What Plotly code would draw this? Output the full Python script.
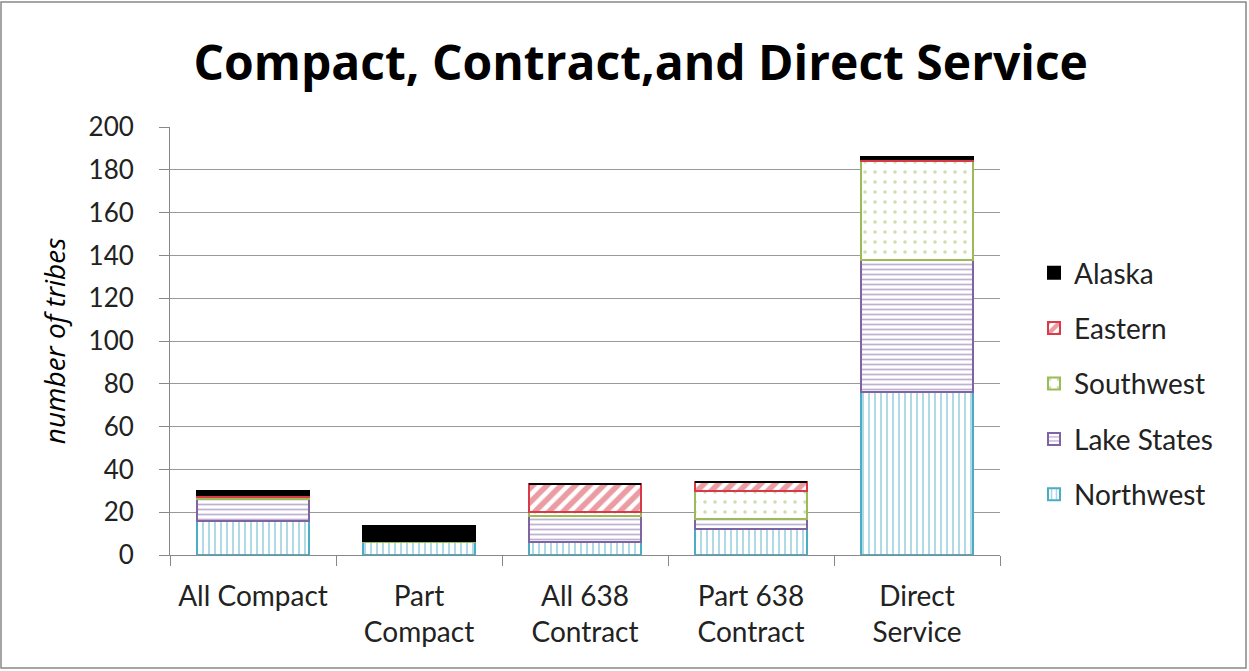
import plotly.graph_objects as go

categories = ["All Compact", "Part<br>Compact", "All 638<br>Contract", "Part 638<br>Contract", "Direct<br>Service"]
northwest = [16, 6, 6, 12, 76]
lake_states = [10, 0, 12, 5, 62]
southwest = [1, 0.5, 2, 13, 46]
eastern = [1, 0, 13, 4, 1]
alaska = [2, 7, 0, 0, 1]

series = [
    ("Northwest", northwest, "#4BACC6", "|", 6, 0.3),
    ("Lake States", lake_states, "#8064A2", "-", 5, 0.35),
    ("Southwest", southwest, "#9BBB59", ".", 10, 0.1),
    ("Eastern", eastern, "#D83A48", "/", 10, 0.55),
    ("Alaska", alaska, "#000000", "", 8, 1),
]

fig = go.Figure()
for i, (name, vals, col, shape, sz, sol) in enumerate(series):
    if shape:
        marker = dict(color="white", line=dict(color=col, width=2),
                      pattern=dict(shape=shape, fgcolor=col, bgcolor="white", size=sz, solidity=sol, fillmode="overlay"))
    else:
        marker = dict(color=col, line=dict(color=col, width=2))
    fig.add_trace(go.Bar(name=name, x=categories, y=vals, marker=marker, legendgroup=name,
                         legendrank=100 - i))

W, H = 1249, 671
L, R, T, B = 170, 249, 127, 116
pw, ph = W - L - R, H - T - B

fig.update_layout(
    width=W, height=H,
    barmode="stack", bargap=0.33,
    paper_bgcolor="white", plot_bgcolor="white",
    margin=dict(l=L, r=R, t=T, b=B),
    font=dict(family="Lato, sans-serif", color="#222", size=26),
    title=dict(text="<b>Compact, Contract,and Direct Service</b>", x=0.513, xanchor="center",
               y=0.906, yanchor="middle", font=dict(size=48, color="#000", family="Open Sans, sans-serif")),
    legend=dict(x=(1034 - L) / pw, y=(H - B - 248) / ph, xanchor="left", yanchor="top", traceorder="grouped",
                tracegroupgap=16, font=dict(size=28, color="#222"), itemwidth=30),
    showlegend=True,
)
fig.update_xaxes(showline=True, linecolor="#888", linewidth=1, ticks="outside", tickson="boundaries",
                 ticklen=10, tickcolor="#888", tickfont=dict(size=28, color="#222"), ticklabelstandoff=16)
fig.update_yaxes(range=[0, 200], dtick=20, showgrid=True, gridcolor="#999", gridwidth=1,
                 showline=True, linecolor="#888", ticks="outside", ticklen=10, tickcolor="#888",
                 tickfont=dict(size=26, color="#222"), zeroline=False, ticklabelstandoff=20,
                 title=dict(text="<i>number of tribes</i>", font=dict(size=28, color="#000", family="Open Sans, sans-serif"), standoff=14))

fig.add_shape(type="rect", xref="paper", yref="paper",
              x0=(1 - L) / pw, x1=(1246 - L) / pw,
              y0=(H - B - 668) / ph, y1=(H - B - 2) / ph,
              line=dict(color="#888", width=1.5), layer="below")

fig.write_html("out.html", config={"displayModeBar": False},
               post_script="document.body.style.margin='0';")
